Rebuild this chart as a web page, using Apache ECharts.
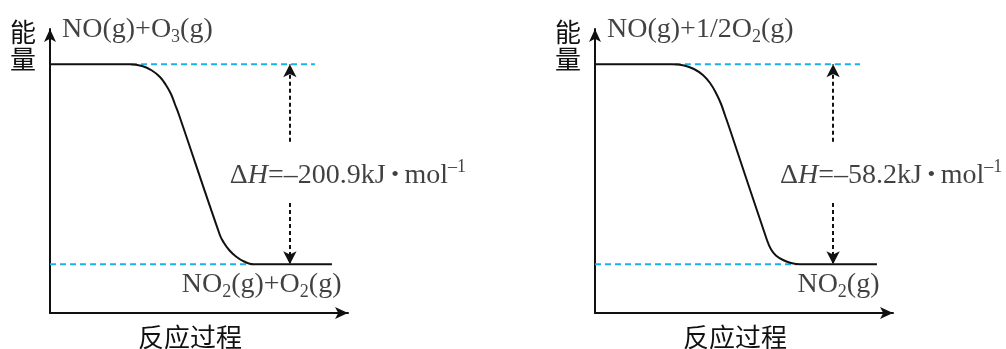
<!DOCTYPE html>
<html>
<head>
<meta charset="utf-8">
<script src="https://cdn.jsdelivr.net/npm/echarts@6/dist/echarts.min.js"></script>
<style>
  html, body { margin: 0; padding: 0; background: #fff; }
  #chart { width: 1006px; height: 349px; }
</style>
</head>
<body>
<div id="chart"></div>
<script>
// Two energy profiles: NO oxidised by O3 and by O2.
const reactantText = ['NO(g)+O3(g)', 'NO(g)+1/2O2(g)'];
const productText = ['NO2(g)+O2(g)', 'NO2(g)'];
const deltaH = [-200.9, -58.2];               // kJ·mol⁻¹
const energyName = '能量';
const progressName = '反应过程';

// Reaction coordinate (0–100) along each path ...
const pathX = [
  [0, 26.8, 30.9, 34.2, 36.9, 38.9, 40.6, 41.9, 43.3, 57.0, 58.4, 60.1, 62.4, 65.1, 68.1, 94.6],
  [0, 25.8, 29.9, 33.2, 36.2, 38.6, 40.6, 42.3, 43.6, 45.0, 57.7, 59.1, 60.7, 63.1, 65.8, 68.8, 94.6]
];
// ... and the share of ΔH already released at that point
const pathShare = [
  [0, 0, 0.0085, 0.031, 0.0635, 0.1035, 0.1485, 0.1985, 0.2535, 0.8535, 0.8935, 0.9285, 0.961, 0.986, 1, 1],
  [0, 0, 0.006, 0.0235, 0.0535, 0.0935, 0.1435, 0.1985, 0.2535, 0.3135, 0.8785, 0.926, 0.956, 0.9785, 0.9935, 1, 1]
];
// Reaction-coordinate spans of the dashed level guides and the ΔH arrow
const reactantGuideX = [[27.2, 88.9], [26.8, 88.9]];
const productGuideX = [[0, 68.1], [0, 67.8]];
const arrowX = [80.5, 79.9];
const productLabelX = [71.0, 81.7];

// ---- layout and style ----
const SERIF = 'Liberation Serif';
const CJK = 'Noto Sans CJK SC';
const INK = '#111';
const GUIDE = '#1cb0ea';
const panelLeft = [50, 595];
const panelWidth = 298;
const gridTop = 29;
const gridHeight = 284;
const headroom = 0.1765;   // axis space above the reactant level, share of |ΔH|
const footroom = 0.2435;   // axis space below the product level, share of |ΔH|
const arrowBreak = [0.387, 0.694];  // gap in the ΔH arrow that holds its label
const labelShare = 0.555;

const rich = {
  n: { fontFamily: SERIF, fontSize: 28, lineHeight: 34, color: INK },
  i: { fontFamily: SERIF, fontSize: 28, lineHeight: 34, color: INK, fontStyle: 'italic' },
  d: { fontFamily: SERIF, fontSize: 22, lineHeight: 34, color: INK },
  s: { fontFamily: SERIF, fontSize: 18, lineHeight: 19, color: INK, verticalAlign: 'bottom' },
  p: { fontFamily: SERIF, fontSize: 18, lineHeight: 27, color: INK, verticalAlign: 'top' }
};

// Formula text -> rich text with subscripted atom counts
function chem(s) {
  const re = /([A-Za-z])(\d+)/g;
  let out = '', last = 0, m;
  while ((m = re.exec(s))) {
    out += '{n|' + s.slice(last, m.index + 1) + '}{s|' + m[2] + '}';
    last = m.index + m[0].length;
  }
  if (last < s.length) out += '{n|' + s.slice(last) + '}';
  return out;
}

function enthalpy(v) {
  return '{n|Δ}{i|H}{n|=–' + Math.abs(v).toFixed(1) + 'kJ}{d| • }{n|mol}{p|–1}';
}

const grid = [], xAxis = [], yAxis = [], series = [];

deltaH.forEach(function (dH, i) {
  grid.push({
    left: panelLeft[i], top: gridTop, width: panelWidth, height: gridHeight,
    containLabel: false, outerBoundsMode: 'none'
  });

  xAxis.push({
    gridIndex: i, type: 'value', min: 0, max: 100,
    axisLine: { show: true, onZero: false, symbol: ['none', 'arrow'], symbolSize: [9, 13],
      lineStyle: { color: INK, width: 2 } },
    axisTick: { show: false }, axisLabel: { show: false }, splitLine: { show: false },
    name: progressName, nameLocation: 'middle', nameGap: 24,
    nameTextStyle: { fontFamily: CJK, fontSize: 26, color: INK, verticalAlign: 'middle',
      padding: [0, 18, 0, 0] }
  });

  yAxis.push({
    gridIndex: i, type: 'value',
    min: dH * (1 + footroom), max: -dH * headroom,
    axisLine: { show: true, onZero: false, symbol: ['none', 'arrow'], symbolSize: [9, 13],
      lineStyle: { color: INK, width: 2 } },
    axisTick: { show: false }, axisLabel: { show: false }, splitLine: { show: false },
    name: energyName.split('').join('\n'), nameLocation: 'end', nameGap: 10,
    nameTextStyle: { fontFamily: CJK, fontSize: 26, lineHeight: 27, color: INK,
      align: 'right', verticalAlign: 'top', padding: [0, 14, 0, 0] }
  });

  // level guides
  series.push({
    type: 'line', xAxisIndex: i, yAxisIndex: i, symbol: 'none', silent: true, z: 2,
    data: reactantGuideX[i].map(function (x) { return [x, 0]; }),
    lineStyle: { color: GUIDE, width: 2, type: [6, 4] }
  });
  series.push({
    type: 'line', xAxisIndex: i, yAxisIndex: i, symbol: 'none', silent: true, z: 2,
    data: productGuideX[i].map(function (x) { return [x, dH]; }),
    lineStyle: { color: GUIDE, width: 2, type: [6, 4] }
  });

  // energy path with the ΔH arrow
  series.push({
    type: 'line', xAxisIndex: i, yAxisIndex: i, symbol: 'none', silent: true, z: 3,
    smooth: 0.4,
    data: pathX[i].map(function (x, k) { return [x, pathShare[i][k] * dH]; }),
    lineStyle: { color: INK, width: 2 },
    markLine: {
      silent: true, symbol: ['none', 'arrow'], symbolSize: [10, 13],
      label: { show: false },
      lineStyle: { color: INK, width: 2, type: [4, 3] },
      emphasis: { disabled: true },
      data: [
        [{ coord: [arrowX[i], dH * arrowBreak[0]] }, { coord: [arrowX[i], 0] }],
        [{ coord: [arrowX[i], dH * arrowBreak[1]] }, { coord: [arrowX[i], dH] }]
      ]
    }
  });

  // species names and ΔH
  series.push({
    type: 'scatter', xAxisIndex: i, yAxisIndex: i, symbolSize: 0, silent: true, z: 4,
    data: [
      { value: [0, 0], label: { show: true, position: 'inside', align: 'left', verticalAlign: 'middle',
          offset: [12, -35], formatter: chem(reactantText[i]), rich: rich } },
      { value: [productLabelX[i], dH], label: { show: true, position: 'inside', align: 'center',
          verticalAlign: 'middle', offset: [0, 20], formatter: chem(productText[i]), rich: rich } },
      { value: [arrowX[i], dH * labelShare], label: { show: true, position: 'inside', align: 'center',
          verticalAlign: 'middle', offset: [58, 0], formatter: enthalpy(dH), rich: rich } }
    ]
  });
});

const chart = echarts.init(document.getElementById('chart'), null, { renderer: 'canvas' });
chart.setOption({
  backgroundColor: '#fff',
  animation: false,
  grid: grid, xAxis: xAxis, yAxis: yAxis, series: series
});
</script>
</body>
</html>
